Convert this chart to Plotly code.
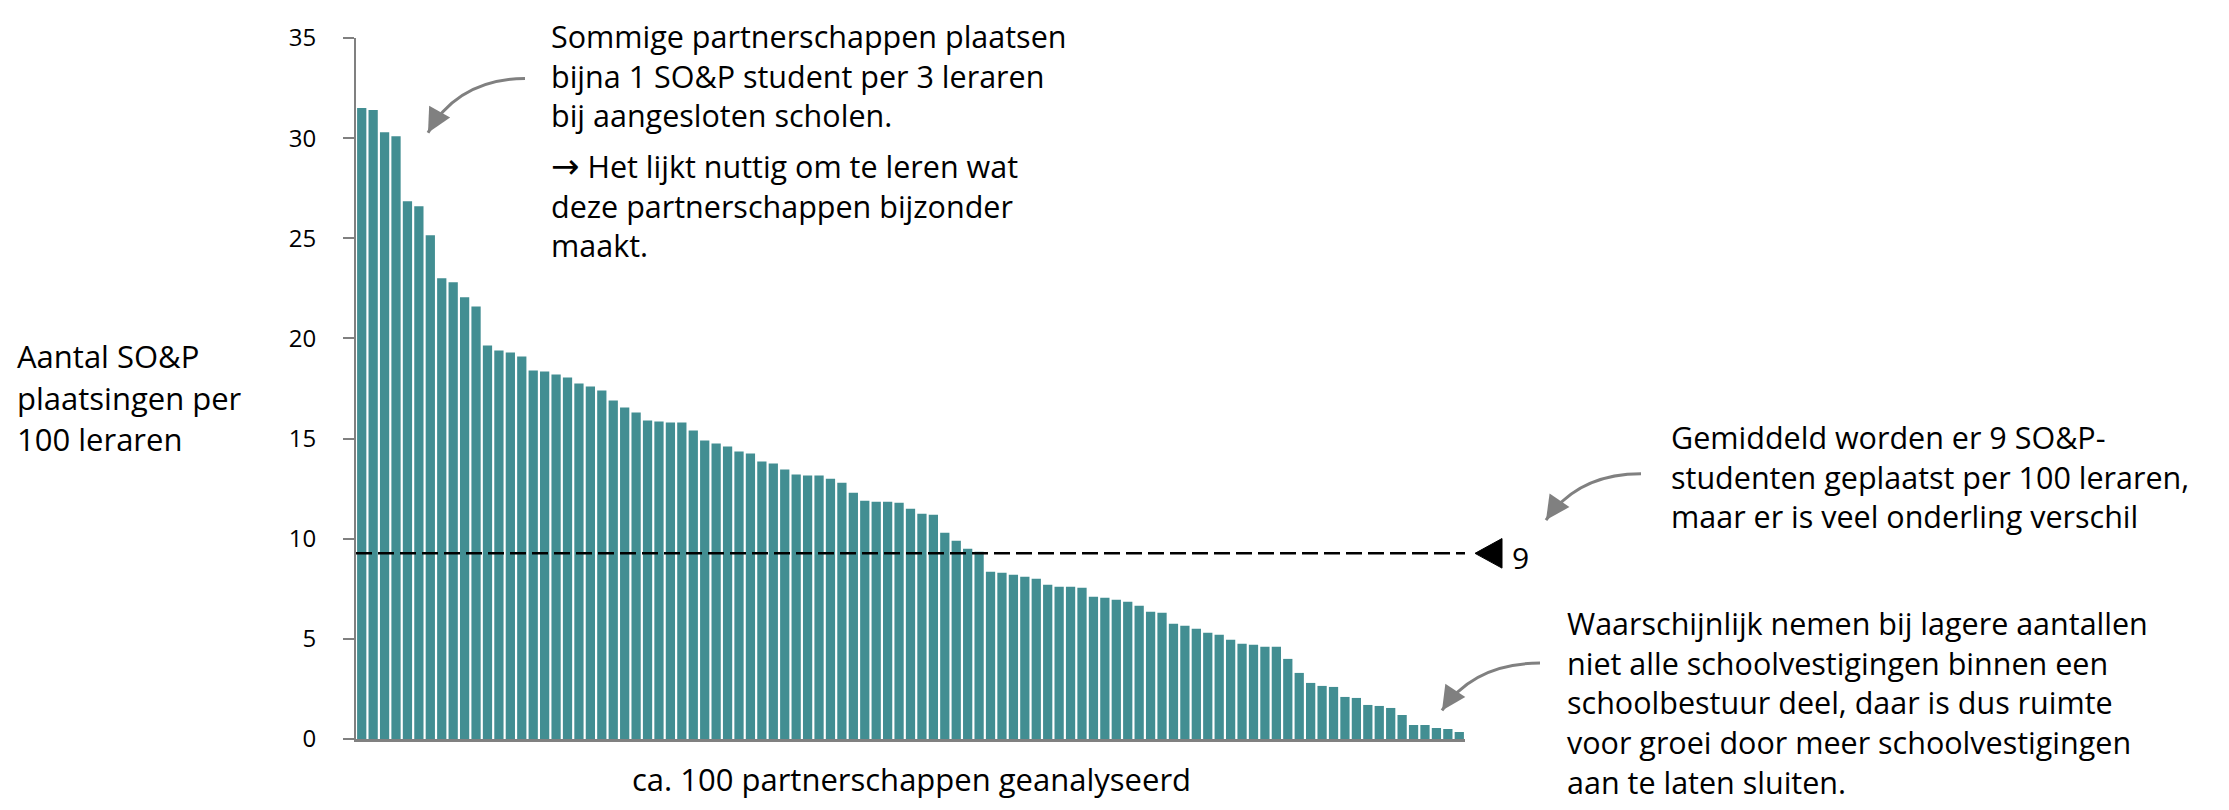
import plotly.graph_objects as go

# ---- data ----
values = [31.5, 31.4, 30.3, 30.1, 26.85, 26.6, 25.15, 23.0, 22.8, 22.05,
          21.6, 19.65, 19.4, 19.3, 19.1, 18.4, 18.35, 18.2, 18.05, 17.75,
          17.6, 17.4, 16.9, 16.55, 16.3, 15.9, 15.85, 15.8, 15.8, 15.4,
          14.9, 14.75, 14.6, 14.35, 14.25, 13.85, 13.75, 13.45, 13.2, 13.15,
          13.15, 13.0, 12.8, 12.3, 11.9, 11.85, 11.85, 11.8, 11.5, 11.25,
          11.2, 10.3, 9.9, 9.5, 9.35, 8.35, 8.3, 8.2, 8.1, 8.0,
          7.7, 7.6, 7.6, 7.55, 7.1, 7.05, 6.95, 6.85, 6.65, 6.35,
          6.3, 5.75, 5.65, 5.5, 5.3, 5.2, 4.95, 4.75, 4.7, 4.6,
          4.6, 4.0, 3.3, 2.8, 2.65, 2.6, 2.1, 2.05, 1.7, 1.65,
          1.55, 1.2, 0.7, 0.7, 0.55, 0.5, 0.35]
average = 9.27
average_label = "9"
y_ticks = [0, 5, 10, 15, 20, 25, 30, 35]
y_title_lines = ["Aantal SO&amp;P", "plaatsingen per", "100 leraren"]
x_title = "ca. 100 partnerschappen geanalyseerd"
note_top_1 = ["Sommige partnerschappen plaatsen", "bijna 1 SO&amp;P student per 3 leraren",
              "bij aangesloten scholen."]
note_top_2 = ["<span style=\"font-family:'DejaVu Sans';font-size:34px\">\u2192</span> Het lijkt nuttig om te leren wat",
              "deze partnerschappen bijzonder", "maakt."]
note_mid = ["Gemiddeld worden er 9 SO&amp;P-", "studenten geplaatst per 100 leraren,",
            "maar er is veel onderling verschil"]
note_low = ["Waarschijnlijk nemen bij lagere aantallen", "niet alle schoolvestigingen binnen een",
            "schoolbestuur deel, daar is dus ruimte", "voor groei door meer schoolvestigingen",
            "aan te laten sluiten."]

n = len(values)
BAR = "#428E92"
GREY = "#808080"
FONT = "Open Sans"
TXT = 31
NOTE = 30.5

W, H = 2229, 810
OFF = 8                      # default page margin of the html body
L, R, T, B = 356, 1465, 28, 739   # plot area in window pixels
YMAX = 35


def px(x):
    return (x - L) / (R - L)


def py(y):
    return (B - y) / (B - T)


fig = go.Figure()
fig.add_trace(go.Bar(x=list(range(n)), y=values, marker_color=BAR,
                     marker_line_width=0, hoverinfo="y"))

fig.add_shape(type="line", xref="x", yref="y", x0=-0.5, x1=n - 0.5,
              y0=average, y1=average, layer="above",
              line=dict(color="black", width=2.5, dash="16px,6px"))

# triangle marker pointing at the average line
y_avg = B - average * (B - T) / YMAX
tri = (f"M {px(1475)},{py(y_avg)} L {px(1502)},{py(y_avg - 15)} "
       f"L {px(1502)},{py(y_avg + 15)} Z")
fig.add_shape(type="path", xref="paper", yref="paper", path=tri,
              fillcolor="black", line=dict(color="black", width=1))

annotations = []


def text_lines(lines, x, ys, size=TXT):
    for line, y in zip(lines, ys):
        annotations.append(dict(text=line, xref="paper", yref="paper",
                                x=px(x), y=py(y), xanchor="left", yanchor="middle",
                                align="left", showarrow=False,
                                font=dict(family=FONT, size=size, color="black")))


def text_block(lines, x, yc, size=NOTE):
    annotations.append(dict(text="<br>".join(lines), xref="paper", yref="paper",
                            x=px(x), y=py(yc), xanchor="left", yanchor="middle",
                            align="left", showarrow=False,
                            font=dict(family=FONT, size=size, color="black")))


text_lines(y_title_lines, 15, [351, 393, 435])
text_block(note_top_1, 549, 66.5)
text_block(note_top_2, 549, 197.5)
text_block(note_mid, 1669, 473)
text_block(note_low, 1565, 702)

annotations.append(dict(text=average_label, xref="paper", yref="paper", x=px(1510),
                        y=py(y_avg + 4), xanchor="left", yanchor="middle", showarrow=False,
                        font=dict(family=FONT, size=30, color="black")))
annotations.append(dict(text=x_title, xref="paper", yref="paper", x=px(911), y=py(780),
                        xanchor="center", yanchor="middle", showarrow=False,
                        font=dict(family=FONT, size=TXT, color="black")))

# curved grey arrows
arrows = [((525, 69), (458, 70), (428, 124)),
          ((1641, 470), (1578, 470), (1546, 517)),
          ((1540, 662), (1474, 662), (1442, 710))]
for (x0, y0), (cx, cy), (x1, y1) in arrows:
    path = f"M {px(x0)},{py(y0)} Q {px(cx)},{py(cy)} {px(x1)},{py(y1)}"
    fig.add_shape(type="path", xref="paper", yref="paper", path=path,
                  line=dict(color=GREY, width=3))
    dx, dy = x1 - cx, y1 - cy
    d = (dx ** 2 + dy ** 2) ** 0.5
    annotations.append(dict(text="", xref="paper", yref="paper", x=px(x1), y=py(y1),
                            ax=-dx / d * 14, ay=-dy / d * 14, showarrow=True,
                            arrowhead=2, arrowsize=1.6, arrowwidth=3,
                            arrowcolor=GREY, standoff=0))

FW, FH = W - 2 * OFF, H - 2 * OFF
fig.update_layout(
    width=FW, height=FH,
    margin=dict(l=L - OFF, r=FW - (R - OFF), t=T - OFF, b=FH - (B - OFF)),
    paper_bgcolor="white", plot_bgcolor="white",
    showlegend=False, bargap=0.19,
    annotations=annotations,
    xaxis=dict(range=[-0.5, n - 0.5], showticklabels=False, ticks="",
               showgrid=False, zeroline=False, showline=True,
               linecolor=GREY, linewidth=3),
    yaxis=dict(range=[0, YMAX], tickvals=y_ticks, showgrid=False, zeroline=False,
               showline=True, linecolor=GREY, linewidth=2, ticks="outside",
               ticklen=11, tickwidth=2, tickcolor=GREY, ticklabelstandoff=22,
               tickfont=dict(family=FONT, size=24, color="black")),
)

fig.write_html("out.html")
